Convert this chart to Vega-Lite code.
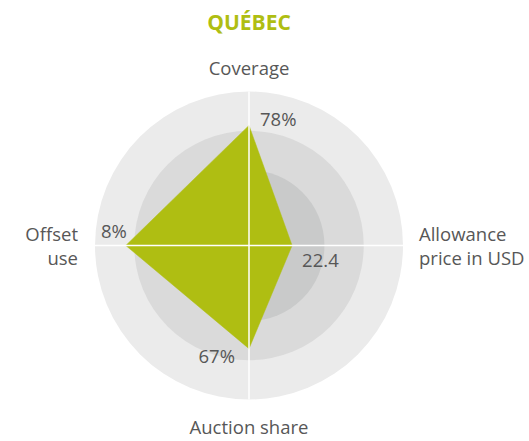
{
  "$schema": "https://vega.github.io/schema/vega-lite/v6.json",
  "width": 308,
  "height": 308,
  "autosize": {"type": "none"},
  "padding": {"left": 95, "top": 91.5, "right": 126, "bottom": 41.5},
  "background": "white",
  "config": {"view": {"stroke": null}, "font": "Open Sans", "text": {"font": "Open Sans"}},
  "title": {"text": "QUÉBEC", "fontSize": 21, "fontWeight": "bold", "color": "#afbe12", "font": "Open Sans", "anchor": "middle", "offset": 26},
  "datasets": {
    "axes": [
      {"axis": "Coverage", "label": "Coverage", "value": 78, "display": "78%", "max": 100, "order": 0},
      {"axis": "Allowance price", "label": "Allowance\nprice in USD", "value": 22.4, "display": "22.4", "max": 80, "order": 1},
      {"axis": "Auction share", "label": "Auction share", "value": 67, "display": "67%", "max": 100, "order": 2},
      {"axis": "Offset use", "label": "Offset\nuse", "value": 8, "display": "8%", "max": 10, "order": 3}
    ],
    "rings": [
      {"ring": "outer", "radius": 1},
      {"ring": "middle", "radius": 0.745},
      {"ring": "inner", "radius": 0.49}
    ]
  },
  "data": {"name": "axes"},
  "transform": [
    {"calculate": "datum.value / datum.max", "as": "r"},
    {"calculate": "datum.order * PI / 2", "as": "ang"},
    {"calculate": "datum.r * sin(datum.ang)", "as": "px"},
    {"calculate": "datum.r * cos(datum.ang)", "as": "py"},
    {"calculate": "sin(datum.ang)", "as": "ox"},
    {"calculate": "cos(datum.ang)", "as": "oy"}
  ],
  "layer": [
    {
      "data": {"name": "rings"},
      "mark": {"type": "arc", "theta": 0, "theta2": 6.2832},
      "encoding": {
        "radius": {"field": "radius", "type": "quantitative", "stack": null, "scale": {"type": "linear", "domain": [0, 1], "range": [0, 154], "zero": true}},
        "color": {"field": "ring", "type": "nominal", "scale": {"domain": ["outer", "middle", "inner"], "range": ["#ebebeb", "#dadada", "#c9caca"]}, "legend": null}
      }
    },
    {
      "mark": {"type": "line", "interpolate": "linear-closed", "fill": "#afbe12", "stroke": "#afbe12", "strokeWidth": 0.5},
      "encoding": {
        "x": {"field": "px", "type": "quantitative", "scale": {"domain": [-1, 1], "nice": false, "zero": false}, "axis": null},
        "y": {"field": "py", "type": "quantitative", "scale": {"domain": [-1, 1], "nice": false, "zero": false}, "axis": null},
        "order": {"field": "order", "type": "quantitative"}
      }
    },
    {
      "mark": {"type": "rule", "stroke": "white", "strokeWidth": 1.5},
      "encoding": {
        "x": {"field": "ox", "type": "quantitative"},
        "y": {"field": "oy", "type": "quantitative"},
        "x2": {"datum": 0},
        "y2": {"datum": 0}
      }
    },
    {
      "transform": [{"filter": "datum.axis === 'Coverage'"}],
      "mark": {"type": "text", "align": "center", "baseline": "alphabetic", "dy": -16.5, "fontSize": 18.5, "color": "#575757"},
      "encoding": {"x": {"field": "ox", "type": "quantitative"}, "y": {"field": "oy", "type": "quantitative"}, "text": {"field": "label"}}
    },
    {
      "transform": [{"filter": "datum.axis === 'Allowance price'"}],
      "mark": {"type": "text", "align": "left", "baseline": "alphabetic", "dx": 16, "dy": -4.8, "lineBreak": "\n", "lineHeight": 24.5, "fontSize": 18.5, "color": "#575757"},
      "encoding": {"x": {"field": "ox", "type": "quantitative"}, "y": {"field": "oy", "type": "quantitative"}, "text": {"field": "label"}}
    },
    {
      "transform": [{"filter": "datum.axis === 'Auction share'"}],
      "mark": {"type": "text", "align": "center", "baseline": "alphabetic", "dy": 34, "fontSize": 18.5, "color": "#575757"},
      "encoding": {"x": {"field": "ox", "type": "quantitative"}, "y": {"field": "oy", "type": "quantitative"}, "text": {"field": "label"}}
    },
    {
      "transform": [{"filter": "datum.axis === 'Offset use'"}],
      "mark": {"type": "text", "align": "right", "baseline": "alphabetic", "dx": -17, "dy": -4.8, "lineBreak": "\n", "lineHeight": 24.5, "fontSize": 18.5, "color": "#575757"},
      "encoding": {"x": {"field": "ox", "type": "quantitative"}, "y": {"field": "oy", "type": "quantitative"}, "text": {"field": "label"}}
    },
    {
      "transform": [{"filter": "datum.axis === 'Coverage'"}],
      "mark": {"type": "text", "align": "left", "baseline": "alphabetic", "dx": 11, "dy": 1, "fontSize": 18.5, "color": "#575757"},
      "encoding": {"x": {"field": "px", "type": "quantitative"}, "y": {"field": "py", "type": "quantitative"}, "text": {"field": "display"}}
    },
    {
      "transform": [{"filter": "datum.axis === 'Allowance price'"}],
      "mark": {"type": "text", "align": "left", "baseline": "alphabetic", "dx": 10, "dy": 21.5, "fontSize": 18.5, "color": "#575757"},
      "encoding": {"x": {"field": "px", "type": "quantitative"}, "y": {"field": "py", "type": "quantitative"}, "text": {"field": "display"}}
    },
    {
      "transform": [{"filter": "datum.axis === 'Auction share'"}],
      "mark": {"type": "text", "align": "right", "baseline": "alphabetic", "dx": -14, "dy": 14.7, "fontSize": 18.5, "color": "#575757"},
      "encoding": {"x": {"field": "px", "type": "quantitative"}, "y": {"field": "py", "type": "quantitative"}, "text": {"field": "display"}}
    },
    {
      "transform": [{"filter": "datum.axis === 'Offset use'"}],
      "mark": {"type": "text", "align": "right", "baseline": "alphabetic", "dx": 1, "dy": -8, "fontSize": 18.5, "color": "#575757"},
      "encoding": {"x": {"field": "px", "type": "quantitative"}, "y": {"field": "py", "type": "quantitative"}, "text": {"field": "display"}}
    }
  ]
}
